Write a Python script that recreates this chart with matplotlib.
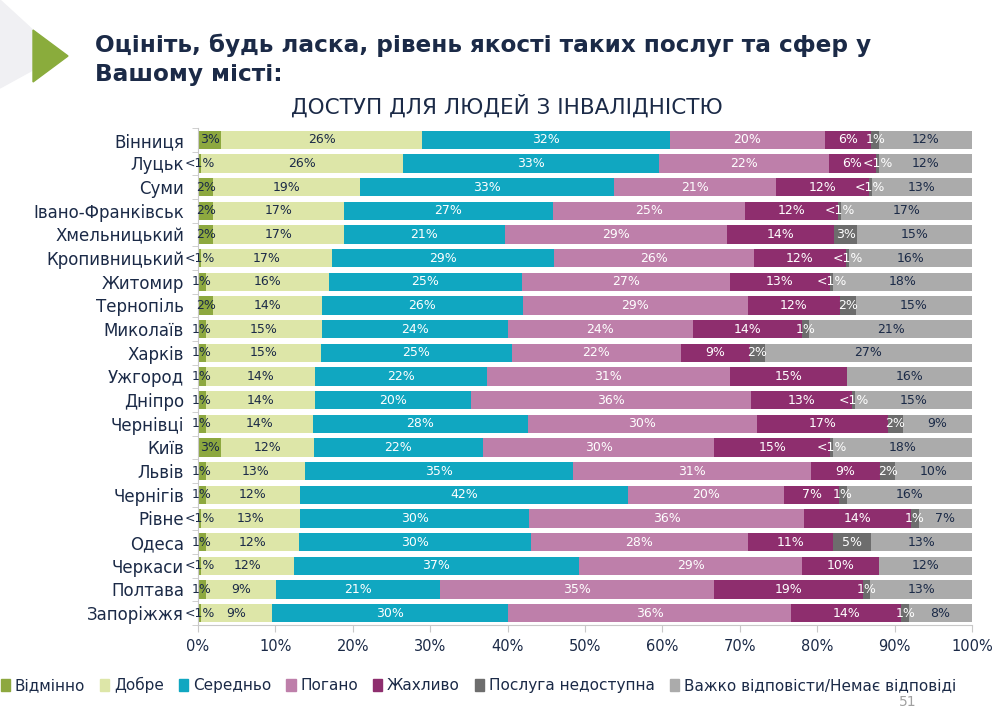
import numpy as np
import matplotlib.pyplot as plt
from matplotlib.patches import Patch, Polygon

plt.rcParams['font.family'] = ['DejaVu Sans']

NAVY = '#1b2a47'

cities = ['Вінниця', 'Луцьк', 'Суми', 'Івано-Франківськ', 'Хмельницький',
          'Кропивницький', 'Житомир', 'Тернопіль', 'Миколаїв', 'Харків',
          'Ужгород', 'Дніпро', 'Чернівці', 'Київ', 'Львів', 'Чернігів',
          'Рівне', 'Одеса', 'Черкаси', 'Полтава', 'Запоріжжя']

categories = ['Відмінно', 'Добре', 'Середньо', 'Погано', 'Жахливо',
              'Послуга недоступна', 'Важко відповісти/Немає відповіді']

# 0.4 stands for the "<1%" answers
vidminno   = [3, 0.4, 2, 2, 2, 0.4, 1, 2, 1, 1, 1, 1, 1, 3, 1, 1, 0.4, 1, 0.4, 1, 0.4]
dobre      = [26, 26, 19, 17, 17, 17, 16, 14, 15, 15, 14, 14, 14, 12, 13, 12, 13, 12, 12, 9, 9]
serednio   = [32, 33, 33, 27, 21, 29, 25, 26, 24, 25, 22, 20, 28, 22, 35, 42, 30, 30, 37, 21, 30]
pohano     = [20, 22, 21, 25, 29, 26, 27, 29, 24, 22, 31, 36, 30, 30, 31, 20, 36, 28, 29, 35, 36]
zhakhlyvo  = [6, 6, 12, 12, 14, 12, 13, 12, 14, 9, 15, 13, 17, 15, 9, 7, 14, 11, 10, 19, 14]
nedostupna = [1, 0.4, 0.4, 0.4, 3, 0.4, 0.4, 2, 1, 2, 0, 0.4, 2, 0.4, 2, 1, 1, 5, 0, 1, 1]
vazhko     = [12, 12, 13, 17, 15, 16, 18, 15, 21, 27, 16, 15, 9, 18, 10, 16, 7, 13, 12, 13, 8]

colors = ['#8da83f', '#dde6a8', '#10a7c1', '#be7faa', '#8e2e6e', '#6d6d6d', '#ababab']
text_colors = [NAVY, NAVY, 'white', 'white', 'white', 'white', NAVY]

data = np.array([vidminno, dobre, serednio, pohano, zhakhlyvo, nedostupna, vazhko], dtype=float)
shares = data / data.sum(axis=0) * 100

fig = plt.figure(figsize=(10.01, 7.09), dpi=100)
ax = fig.add_axes([0.1978, 0.1185, 0.7732, 0.701])

y = np.arange(len(cities))
left = np.zeros(len(cities))
for k in range(len(categories)):
    ax.barh(y, shares[k], left=left, height=0.77, color=colors[k],
            label=categories[k], edgecolor='none')
    for i in range(len(cities)):
        v = data[k, i]
        if v > 0:
            lab = '<1%' if v < 1 else f'{v:.0f}%'
            ax.text(left[i] + shares[k, i] / 2, y[i], lab, ha='center',
                    va='center', fontsize=9, color=text_colors[k],
                    clip_on=False)
    left += shares[k]

ax.set_xlim(0, 100)
ax.set_ylim(len(cities) - 0.5, -0.5)
ax.set_xticks(np.arange(0, 101, 10))
ax.set_xticklabels([f'{t}%' for t in range(0, 101, 10)], fontsize=10.5, color=NAVY)
ax.set_yticks(y)
ax.set_yticklabels(cities, fontsize=12, color=NAVY)
ax.set_yticks(np.arange(-0.5, len(cities), 1), minor=True)
ax.tick_params(axis='y', which='major', length=0, pad=10)
ax.tick_params(axis='y', which='minor', length=4, color='#c8c8c8')
ax.tick_params(axis='x', length=5, color='#c8c8c8', pad=5)
for s in ['top', 'right']:
    ax.spines[s].set_visible(False)
ax.spines['left'].set_color('#c8c8c8')
ax.spines['bottom'].set_color('#c8c8c8')

# slide decoration
fig.patches.append(Polygon([[0, 1], [0.06, 1 - 55 / 709], [0, 1 - 88 / 709]],
                           closed=True, transform=fig.transFigure,
                           color='#f0f0f3', zorder=0))
fig.patches.append(Polygon([[33 / 1001, 1 - 30 / 709], [68 / 1001, 1 - 56 / 709],
                            [33 / 1001, 1 - 82 / 709]],
                           closed=True, transform=fig.transFigure,
                           color='#8aac3c', zorder=1))

fig.text(95 / 1001, 1 - 45 / 709, 'Оцініть, будь ласка, рівень якості таких послуг та сфер у',
         fontsize=16.7, fontweight='bold', color=NAVY, va='center')
fig.text(95 / 1001, 1 - 74 / 709, 'Вашому місті:',
         fontsize=16.7, fontweight='bold', color=NAVY, va='center')
fig.text(507 / 1001, 1 - 106 / 709, 'ДОСТУП ДЛЯ ЛЮДЕЙ З ІНВАЛІДНІСТЮ',
         fontsize=15.5, color=NAVY, ha='center', va='center')

handles = [Patch(color=c) for c in colors]
fig.legend(handles, categories, loc='center', bbox_to_anchor=(0.478, 1 - 685 / 709),
           ncol=7, frameon=False, fontsize=11, handlelength=0.6,
           handleheight=0.8, handletextpad=0.3, columnspacing=1.0,
           labelcolor=NAVY)

fig.text(908 / 1001, 1 - 702 / 709, '51', fontsize=10, color='#a0a0a0',
         ha='center', va='center')

fig.savefig('out.png', dpi=100)
